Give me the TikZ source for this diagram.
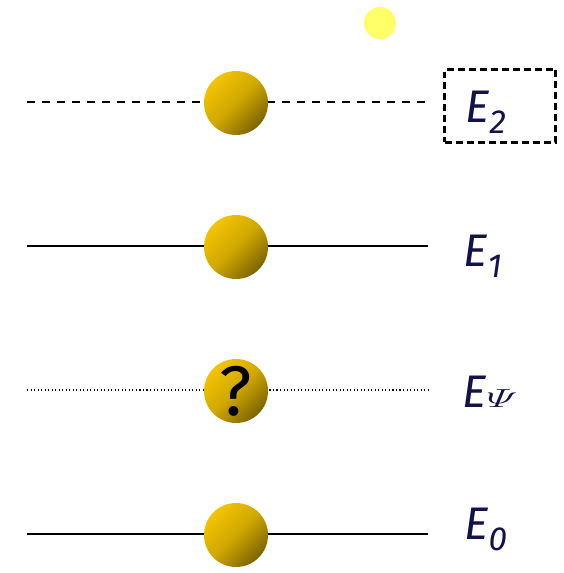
\documentclass[tikz,border=0pt]{standalone}
\usepackage{fontspec}
\setmainfont{Open Sans}
\newfontfamily\levelfont{Fira Sans}
\usetikzlibrary{positioning}

\definecolor{levelnavy}{HTML}{14124A}
\definecolor{goldlight}{HTML}{F4C400}
\definecolor{golddark}{HTML}{7C6400}
\definecolor{photonyellow}{HTML}{FFFF66}

\tikzstyle{electron} = [
    circle,
    minimum size=1.28cm,
    inner sep=0pt,
    top color=goldlight,
    bottom color=golddark,
    middle color=goldlight!70!golddark,
    shading angle=45
]
\tikzstyle{photon} = [
    circle,
    minimum size=0.64cm,
    inner sep=0pt,
    fill=photonyellow
]
\tikzstyle{levellabel} = [
    anchor=base west,
    inner sep=0pt,
    text=levelnavy,
    font=\fontsize{26}{28}\levelfont\itshape
]
\tikzstyle{level} = [line width=0.85pt]
\tikzstyle{leveldash} = [level, dash pattern=on 0.17cm off 0.13cm]
\tikzstyle{leveldot} = [line width=0.6pt, dash pattern=on 0.6pt off 1.4pt]

\newcommand{\levelsub}[1]{\raisebox{-0.22cm}{\fontsize{19}{22}\levelfont\itshape #1}}

\begin{document}
\begin{tikzpicture}[x=0.02cm, y=-0.02cm]
\useasboundingbox (0,0) rectangle (563,573);

% level end points
\coordinate (twoL) at (27,102);   \coordinate (twoR) at (428,102);
\coordinate (oneL) at (27,246);   \coordinate (oneR) at (428,246);
\coordinate (psiL) at (27,390);   \coordinate (psiR) at (428,390);
\coordinate (zeroL) at (27,534);  \coordinate (zeroR) at (428,534);

\draw [leveldash] (twoL) -- (twoR);
\draw [level] (oneL) -- (oneR);
\draw [leveldot] (psiL) -- (psiR);
\draw [level] (zeroL) -- (zeroR);

% electrons
\node (ballTwo) [electron] at (236,103) {};
\node (ballOne) [electron] at (236,247) {};
\node (ballPsi) [electron] at (236,391)
{\fontsize{40}{42}\levelfont ?};
\node (ballZero) [electron] at (236,535) {};

\node (photon) [photon] at (380,23) {};

% labels
\node (boxTwo) [draw, line width=1.3pt, dash pattern=on 0.14cm off 0.08cm,
    minimum width=2.22cm, minimum height=1.46cm, inner sep=0pt] at (500,106) {};
\node (labTwo) [levellabel] at (465,123) {E\levelsub{2}};
\node (labOne) [levellabel] at (463,267) {E\levelsub{1}};
\node (labPsi) [levellabel] at (462,407)
{E\scalebox{1}[0.6]{\fontsize{26}{28}\selectfont$\mathnormal{\Psi}$}};
\node (labZero) [levellabel] at (464,539) {E\levelsub{0}};

\end{tikzpicture}
\end{document}
